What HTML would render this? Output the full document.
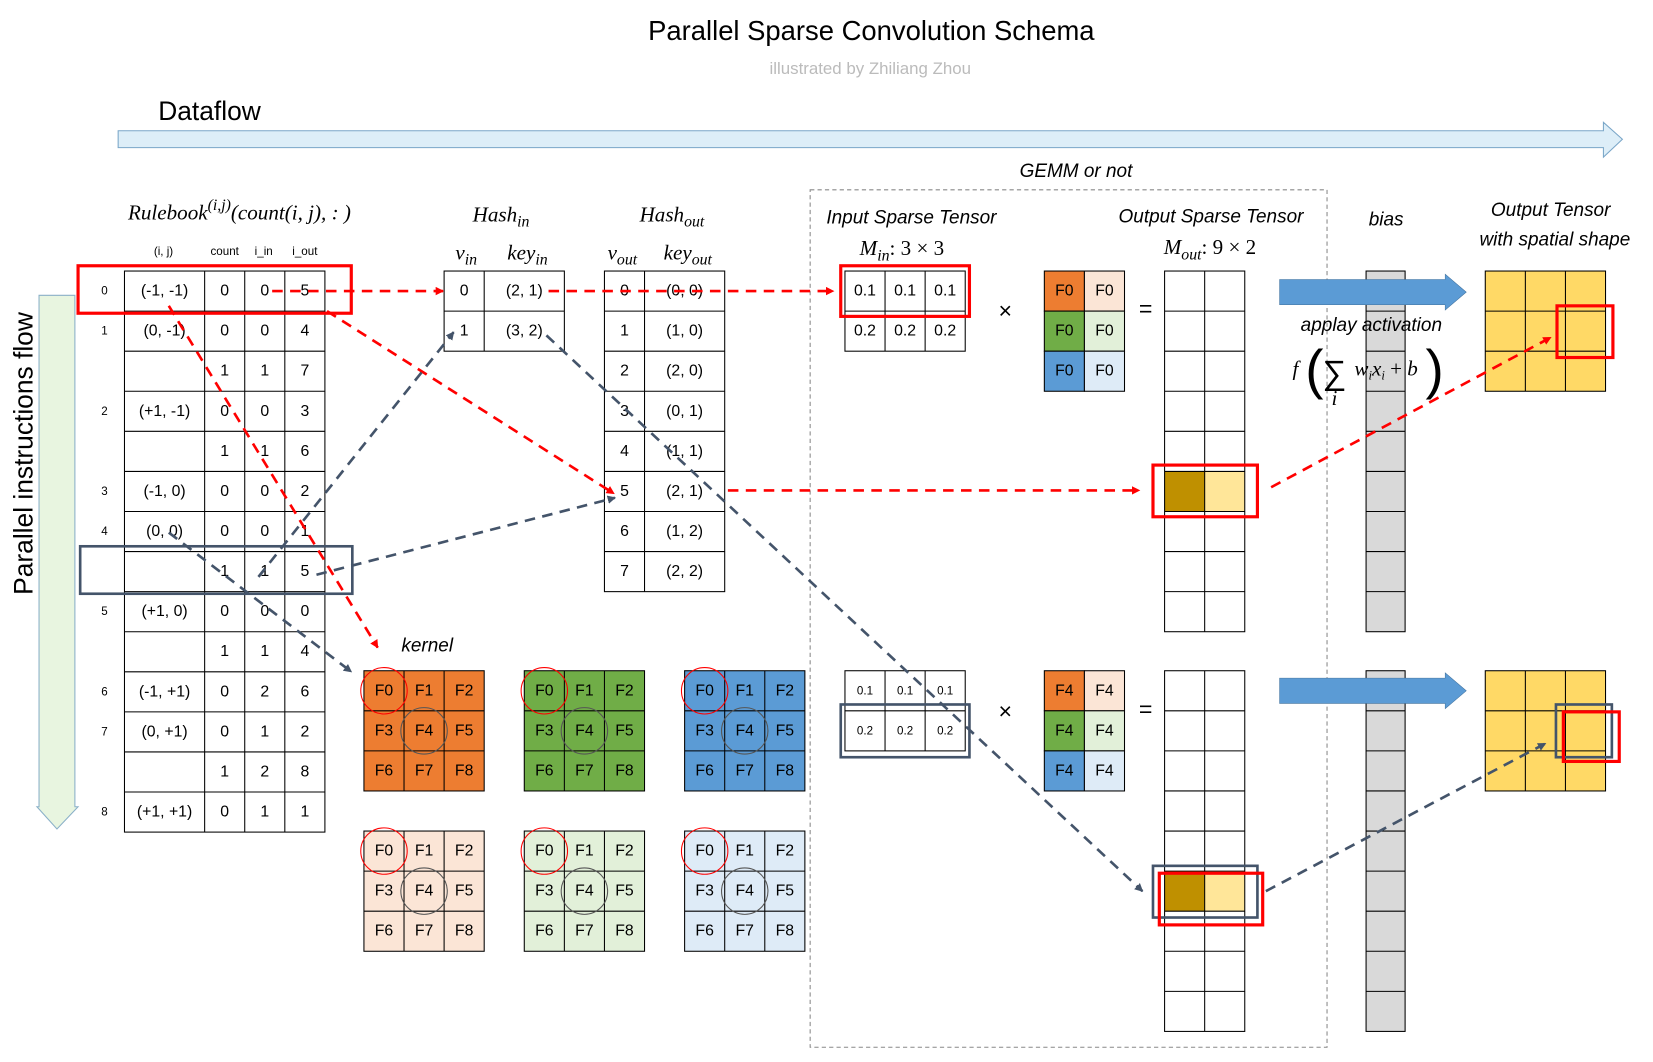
<!DOCTYPE html>
<html><head><meta charset="utf-8"><style>
html,body{margin:0;padding:0;background:#fff;}
svg{display:block;}
text{font-family:"Liberation Sans",sans-serif;}
.c{font-size:15px;text-anchor:middle;dominant-baseline:central;fill:#000;}
.s{font-size:11px;text-anchor:middle;dominant-baseline:central;}
.it{font-style:italic;font-size:18px;text-anchor:middle;}
.m{font-family:"Liberation Serif",serif;font-style:italic;font-size:20px;text-anchor:middle;}
</style></head><body>
<svg width="1653" height="1062" viewBox="0 0 1567 1007" preserveAspectRatio="none" xmlns="http://www.w3.org/2000/svg">
<defs>
<marker id="ar" markerWidth="8" markerHeight="8" refX="7" refY="4" orient="auto" markerUnits="userSpaceOnUse"><path d="M0,0 L8,4 L0,8z" fill="#f00"/></marker>
<marker id="ad" markerWidth="8" markerHeight="8" refX="7" refY="4" orient="auto" markerUnits="userSpaceOnUse"><path d="M0,0 L8,4 L0,8z" fill="#44546a"/></marker>
</defs>
<text x="826" y="38" font-size="26" text-anchor="middle">Parallel Sparse Convolution Schema</text>
<text x="825" y="70" font-size="16" text-anchor="middle" fill="#bbb">illustrated  by Zhiliang Zhou</text>
<text x="150" y="114" font-size="25">Dataflow</text>
<path d="M112,124 L1520,124 L1520,116 L1538,132 L1520,149 L1520,140 L112,140z" fill="#ddeef8" stroke="#7aa6c8"/>
<path d="M37,280 L71,280 L71,765 L74,765 L54,786 L35,765 L37,765z" fill="#e8f5e0" stroke="#8ab0c8"/>
<text transform="translate(31,430) rotate(-90)" font-size="25" text-anchor="middle">Parallel instructions flow</text>

<text x="227" y="208" class="m" font-size="22">Rulebook<tspan dy="-9" font-size="15">(i,j)</tspan><tspan dy="9">(count(i, j), : )</tspan></text>
<g font-size="11" text-anchor="middle"><text x="155" y="242">(i, j)</text><text x="213" y="242">count</text><text x="250" y="242">i_in</text><text x="289" y="242">i_out</text></g>
<g fill="none" stroke="#000" stroke-width="1">
<rect x="118" y="257" width="190" height="532"/>
<path d="M194,257V789M232,257V789M270,257V789"/>
<path d="M118,295H308M118,333H308M118,371H308M118,409H308M118,447H308M118,485H308M118,523H308M118,561H308M118,599H308M118,637H308M118,675H308M118,713H308M118,751H308"/>
</g>
<g font-size="11" text-anchor="middle" dominant-baseline="central">
<text x="99" y="276">0</text><text x="99" y="314">1</text><text x="99" y="390">2</text><text x="99" y="466">3</text><text x="99" y="504">4</text><text x="99" y="580">5</text><text x="99" y="656">6</text><text x="99" y="694">7</text><text x="99" y="770">8</text>
</g>
<g class="c">
<text class="c" x="156" y="276">(-1, -1)</text><text class="c" x="213" y="276">0</text><text class="c" x="251" y="276">0</text><text class="c" x="289" y="276">5</text>
<text class="c" x="156" y="314">(0, -1)</text><text class="c" x="213" y="314">0</text><text class="c" x="251" y="314">0</text><text class="c" x="289" y="314">4</text>
<text class="c" x="213" y="352">1</text><text class="c" x="251" y="352">1</text><text class="c" x="289" y="352">7</text>
<text class="c" x="156" y="390">(+1, -1)</text><text class="c" x="213" y="390">0</text><text class="c" x="251" y="390">0</text><text class="c" x="289" y="390">3</text>
<text class="c" x="213" y="428">1</text><text class="c" x="251" y="428">1</text><text class="c" x="289" y="428">6</text>
<text class="c" x="156" y="466">(-1, 0)</text><text class="c" x="213" y="466">0</text><text class="c" x="251" y="466">0</text><text class="c" x="289" y="466">2</text>
<text class="c" x="156" y="504">(0, 0)</text><text class="c" x="213" y="504">0</text><text class="c" x="251" y="504">0</text><text class="c" x="289" y="504">1</text>
<text class="c" x="213" y="542">1</text><text class="c" x="251" y="542">1</text><text class="c" x="289" y="542">5</text>
<text class="c" x="156" y="580">(+1, 0)</text><text class="c" x="213" y="580">0</text><text class="c" x="251" y="580">0</text><text class="c" x="289" y="580">0</text>
<text class="c" x="213" y="618">1</text><text class="c" x="251" y="618">1</text><text class="c" x="289" y="618">4</text>
<text class="c" x="156" y="656">(-1, +1)</text><text class="c" x="213" y="656">0</text><text class="c" x="251" y="656">2</text><text class="c" x="289" y="656">6</text>
<text class="c" x="156" y="694">(0, +1)</text><text class="c" x="213" y="694">0</text><text class="c" x="251" y="694">1</text><text class="c" x="289" y="694">2</text>
<text class="c" x="213" y="732">1</text><text class="c" x="251" y="732">2</text><text class="c" x="289" y="732">8</text>
<text class="c" x="156" y="770">(+1, +1)</text><text class="c" x="213" y="770">0</text><text class="c" x="251" y="770">1</text><text class="c" x="289" y="770">1</text>
</g>
<rect x="74" y="252" width="259" height="45" fill="none" stroke="#f00" stroke-width="3"/>
<rect x="76" y="518" width="258" height="45" fill="none" stroke="#44546a" stroke-width="2.5"/>

<text x="475" y="210" class="m">Hash<tspan dy="5" font-size="15">in</tspan></text>
<text x="442" y="246" class="m">v<tspan dy="5" font-size="15">in</tspan></text>
<text x="500" y="246" class="m">key<tspan dy="5" font-size="15">in</tspan></text>
<g fill="none" stroke="#000"><rect x="421" y="257" width="114" height="76"/><path d="M459,257V333M421,295H535"/></g>
<text class="c" x="440" y="276">0</text><text class="c" x="497" y="276">(2, 1)</text>
<text class="c" x="440" y="314">1</text><text class="c" x="497" y="314">(3, 2)</text>
<text x="637" y="210" class="m">Hash<tspan dy="5" font-size="15">out</tspan></text>
<text x="590" y="246" class="m">v<tspan dy="5" font-size="15">out</tspan></text>
<text x="652" y="246" class="m">key<tspan dy="5" font-size="15">out</tspan></text>
<g fill="none" stroke="#000"><rect x="573" y="257" width="114" height="304"/><path d="M611,257V561M573,295H687M573,333H687M573,371H687M573,409H687M573,447H687M573,485H687M573,523H687"/></g>
<g>
<text class="c" x="592" y="276">0</text><text class="c" x="649" y="276">(0, 0)</text>
<text class="c" x="592" y="314">1</text><text class="c" x="649" y="314">(1, 0)</text>
<text class="c" x="592" y="352">2</text><text class="c" x="649" y="352">(2, 0)</text>
<text class="c" x="592" y="390">3</text><text class="c" x="649" y="390">(0, 1)</text>
<text class="c" x="592" y="428">4</text><text class="c" x="649" y="428">(1, 1)</text>
<text class="c" x="592" y="466">5</text><text class="c" x="649" y="466">(2, 1)</text>
<text class="c" x="592" y="504">6</text><text class="c" x="649" y="504">(1, 2)</text>
<text class="c" x="592" y="542">7</text><text class="c" x="649" y="542">(2, 2)</text>
</g>

<rect x="768" y="180" width="490" height="813" fill="none" stroke="#888" stroke-dasharray="4,3"/>
<text x="1020" y="168" class="it">GEMM or not</text>
<text x="864" y="212" class="it">Input Sparse Tensor</text>
<text x="855" y="242" class="m">M<tspan dy="5" font-size="15">in</tspan><tspan dy="-5" font-style="normal">: 3 × 3</tspan></text>
<text x="1148" y="211" class="it">Output Sparse Tensor</text>
<text x="1147" y="241" class="m">M<tspan dy="5" font-size="15">out</tspan><tspan dy="-5" font-style="normal">: 9 × 2</tspan></text>
<text x="1314" y="214" class="it">bias</text>
<text x="1470" y="205" class="it">Output Tensor</text>
<text x="1474" y="233" class="it">with spatial shape</text>

<g fill="none" stroke="#000"><rect x="801" y="257" width="114" height="76"/><path d="M839,257V333M877,257V333M801,295H915"/></g>
<text class="c" x="820" y="276">0.1</text><text class="c" x="858" y="276">0.1</text><text class="c" x="896" y="276">0.1</text>
<text class="c" x="820" y="314">0.2</text><text class="c" x="858" y="314">0.2</text><text class="c" x="896" y="314">0.2</text>
<rect x="797" y="252" width="122" height="48" fill="none" stroke="#f00" stroke-width="3"/>
<text x="953" y="302" font-size="22" text-anchor="middle">×</text>
<text x="1086" y="300" font-size="22" text-anchor="middle">=</text>
<g fill="none" stroke="#000"><rect x="801" y="636" width="114" height="76"/><path d="M839,636V712M877,636V712M801,674H915"/></g>
<text class="s" x="820" y="655">0.1</text><text class="s" x="858" y="655">0.1</text><text class="s" x="896" y="655">0.1</text>
<text class="s" x="820" y="693">0.2</text><text class="s" x="858" y="693">0.2</text><text class="s" x="896" y="693">0.2</text>
<rect x="797" y="668" width="122" height="50" fill="none" stroke="#44546a" stroke-width="2.5"/>
<text x="953" y="682" font-size="22" text-anchor="middle">×</text>
<text x="1086" y="680" font-size="22" text-anchor="middle">=</text>

<g stroke="#000">
<rect x="990" y="257" width="38" height="38" fill="#ed7d31"/><rect x="1028" y="257" width="38" height="38" fill="#fbe5d6"/>
<rect x="990" y="295" width="38" height="38" fill="#70ad47"/><rect x="1028" y="295" width="38" height="38" fill="#e2f0d9"/>
<rect x="990" y="333" width="38" height="38" fill="#5b9bd5"/><rect x="1028" y="333" width="38" height="38" fill="#deebf7"/>
<rect x="990" y="636" width="38" height="38" fill="#ed7d31"/><rect x="1028" y="636" width="38" height="38" fill="#fbe5d6"/>
<rect x="990" y="674" width="38" height="38" fill="#70ad47"/><rect x="1028" y="674" width="38" height="38" fill="#e2f0d9"/>
<rect x="990" y="712" width="38" height="38" fill="#5b9bd5"/><rect x="1028" y="712" width="38" height="38" fill="#deebf7"/>
</g>
<text class="c" x="1009" y="276">F0</text><text class="c" x="1047" y="276">F0</text>
<text class="c" x="1009" y="314">F0</text><text class="c" x="1047" y="314">F0</text>
<text class="c" x="1009" y="352">F0</text><text class="c" x="1047" y="352">F0</text>
<text class="c" x="1009" y="655">F4</text><text class="c" x="1047" y="655">F4</text>
<text class="c" x="1009" y="693">F4</text><text class="c" x="1047" y="693">F4</text>
<text class="c" x="1009" y="731">F4</text><text class="c" x="1047" y="731">F4</text>

<rect x="1104" y="447" width="38" height="38" fill="#bf9000"/><rect x="1142" y="447" width="38" height="38" fill="#ffe699"/>
<rect x="1104" y="826" width="38" height="38" fill="#bf9000"/><rect x="1142" y="826" width="38" height="38" fill="#ffe699"/>
<g fill="none" stroke="#000">
<rect x="1104" y="257" width="76" height="342"/><path d="M1142,257V599M1104,295H1180M1104,333H1180M1104,371H1180M1104,409H1180M1104,447H1180M1104,485H1180M1104,523H1180M1104,561H1180"/>
<rect x="1104" y="636" width="76" height="342"/><path d="M1142,636V978M1104,674H1180M1104,712H1180M1104,750H1180M1104,788H1180M1104,826H1180M1104,864H1180M1104,902H1180M1104,940H1180"/>
</g>
<rect x="1093" y="441" width="99" height="49" fill="none" stroke="#f00" stroke-width="3"/>
<rect x="1093" y="821" width="99" height="49" fill="none" stroke="#44546a" stroke-width="2.5"/>
<rect x="1099" y="828" width="98" height="49" fill="none" stroke="#f00" stroke-width="3"/>

<g stroke="#000" fill="#d9d9d9">
<rect x="1295" y="257" width="37" height="342"/><rect x="1295" y="636" width="37" height="342"/>
</g>
<g stroke="#000"><path d="M1295,295H1332M1295,333H1332M1295,371H1332M1295,409H1332M1295,447H1332M1295,485H1332M1295,523H1332M1295,561H1332M1295,674H1332M1295,712H1332M1295,750H1332M1295,788H1332M1295,826H1332M1295,864H1332M1295,902H1332M1295,940H1332"/></g>
<path d="M1213,265H1370V260L1390,277L1370,294V289H1213z" fill="#5b9bd5" stroke="#41719c" stroke-width="0.5"/>
<path d="M1213,643H1370V638L1390,655L1370,672V667H1213z" fill="#5b9bd5" stroke="#41719c" stroke-width="0.5"/>
<text x="1300" y="314" class="it">applay activation</text>
<text x="1228" y="356" class="m" font-size="19">f</text>
<text x="1246" y="368" font-family="Liberation Serif,serif" font-size="52" text-anchor="middle" fill="#000">(</text>
<text x="1265" y="364" font-family="Liberation Serif,serif" font-size="32" text-anchor="middle">∑</text>
<text x="1265" y="384" class="m" font-size="13">i</text>
<text x="1314" y="356" class="m" font-size="19">w<tspan dy="4" font-size="12">i</tspan><tspan dy="-4">x</tspan><tspan dy="4" font-size="12">i</tspan><tspan dy="-4" font-style="normal"> + </tspan>b</text>
<text x="1360" y="368" font-family="Liberation Serif,serif" font-size="52" text-anchor="middle">)</text>

<g fill="#ffd966" stroke="#000">
<rect x="1408" y="257" width="114" height="114"/><rect x="1408" y="636" width="114" height="114"/>
</g>
<g stroke="#000" fill="none"><path d="M1446,257V371M1484,257V371M1408,295H1522M1408,333H1522M1446,636V750M1484,636V750M1408,674H1522M1408,712H1522"/></g>
<rect x="1476" y="290" width="53" height="49" fill="none" stroke="#f00" stroke-width="3"/>
<rect x="1475" y="668" width="53" height="50" fill="none" stroke="#44546a" stroke-width="2.5"/>
<rect x="1482" y="675" width="53" height="47" fill="none" stroke="#f00" stroke-width="3"/>

<text x="405" y="618" class="it">kernel</text>
<g stroke="#000">
<rect x="345" y="636" width="114" height="114" fill="#ed7d31"/>
<rect x="497" y="636" width="114" height="114" fill="#70ad47"/>
<rect x="649" y="636" width="114" height="114" fill="#5b9bd5"/>
<rect x="345" y="788" width="114" height="114" fill="#fbe5d6"/>
<rect x="497" y="788" width="114" height="114" fill="#e2f0d9"/>
<rect x="649" y="788" width="114" height="114" fill="#deebf7"/>
<path fill="none" d="M383,636V750M421,636V750M345,674H459M345,712H459M535,636V750M573,636V750M497,674H611M497,712H611M687,636V750M725,636V750M649,674H763M649,712H763M383,788V902M421,788V902M345,826H459M345,864H459M535,788V902M573,788V902M497,826H611M497,864H611M687,788V902M725,788V902M649,826H763M649,864H763"/>
</g>
<g font-size="15" text-anchor="middle" dominant-baseline="central">
<text x="364" y="655">F0</text><text x="402" y="655">F1</text><text x="440" y="655">F2</text><text x="364" y="693">F3</text><text x="402" y="693">F4</text><text x="440" y="693">F5</text><text x="364" y="731">F6</text><text x="402" y="731">F7</text><text x="440" y="731">F8</text>
<text x="516" y="655">F0</text><text x="554" y="655">F1</text><text x="592" y="655">F2</text><text x="516" y="693">F3</text><text x="554" y="693">F4</text><text x="592" y="693">F5</text><text x="516" y="731">F6</text><text x="554" y="731">F7</text><text x="592" y="731">F8</text>
<text x="668" y="655">F0</text><text x="706" y="655">F1</text><text x="744" y="655">F2</text><text x="668" y="693">F3</text><text x="706" y="693">F4</text><text x="744" y="693">F5</text><text x="668" y="731">F6</text><text x="706" y="731">F7</text><text x="744" y="731">F8</text>
<text x="364" y="807">F0</text><text x="402" y="807">F1</text><text x="440" y="807">F2</text><text x="364" y="845">F3</text><text x="402" y="845">F4</text><text x="440" y="845">F5</text><text x="364" y="883">F6</text><text x="402" y="883">F7</text><text x="440" y="883">F8</text>
<text x="516" y="807">F0</text><text x="554" y="807">F1</text><text x="592" y="807">F2</text><text x="516" y="845">F3</text><text x="554" y="845">F4</text><text x="592" y="845">F5</text><text x="516" y="883">F6</text><text x="554" y="883">F7</text><text x="592" y="883">F8</text>
<text x="668" y="807">F0</text><text x="706" y="807">F1</text><text x="744" y="807">F2</text><text x="668" y="845">F3</text><text x="706" y="845">F4</text><text x="744" y="845">F5</text><text x="668" y="883">F6</text><text x="706" y="883">F7</text><text x="744" y="883">F8</text>
</g>
<g fill="none" stroke="#f00" stroke-width="1">
<circle cx="364" cy="655" r="22"/><circle cx="516" cy="655" r="22"/><circle cx="668" cy="655" r="22"/>
<circle cx="364" cy="807" r="22"/><circle cx="516" cy="807" r="22"/><circle cx="668" cy="807" r="22"/>
</g>
<g fill="none" stroke="#555" stroke-width="1">
<circle cx="402" cy="693" r="22"/><circle cx="554" cy="693" r="22"/><circle cx="706" cy="693" r="22"/>
<circle cx="402" cy="845" r="22"/><circle cx="554" cy="845" r="22"/><circle cx="706" cy="845" r="22"/>
</g>

<g fill="none" stroke="#f00" stroke-width="2.5" stroke-dasharray="10,7">
<path d="M258,276H420" marker-end="url(#ar)"/>
<path d="M520,276H790" marker-end="url(#ar)"/>
<path d="M160,290L358,614" marker-end="url(#ar)"/>
<path d="M310,295L582,468" marker-end="url(#ar)"/>
<path d="M690,465H1080" marker-end="url(#ar)"/>
<path d="M1205,462L1470,320" marker-end="url(#ar)"/>
</g>
<g fill="none" stroke="#44546a" stroke-width="2.5" stroke-dasharray="10,7">
<path d="M245,547L430,315" marker-end="url(#ad)"/>
<path d="M300,545L583,472" marker-end="url(#ad)"/>
<path d="M160,505L333,637" marker-end="url(#ad)"/>
<path d="M518,318L1083,845" marker-end="url(#ad)"/>
<path d="M1200,845L1465,705" marker-end="url(#ad)"/>
</g>
</svg>
</body></html>
